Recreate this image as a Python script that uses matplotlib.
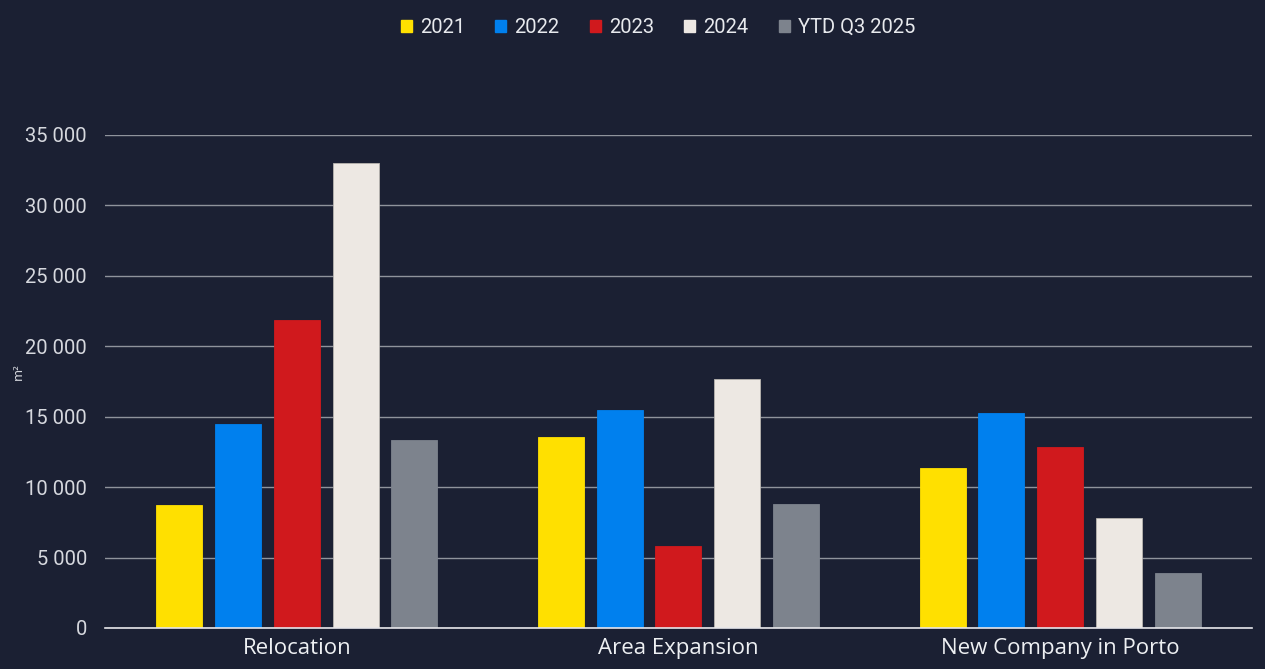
import numpy as np
import matplotlib.pyplot as plt
from matplotlib.patches import Patch
from matplotlib.ticker import FuncFormatter


categories = ["Relocation", "Area Expansion", "New Company in Porto"]
series_names = ["2021", "2022", "2023", "2024", "YTD Q3 2025"]

values_2021 = [8700, 13560, 11360]
values_2022 = [14460, 15480, 15260]
values_2023 = [21870, 5850, 12850]
values_2024 = [33010, 17680, 7790]
values_ytd_2025 = [13350, 8780, 3880]

y_ticks = [0, 5000, 10000, 15000, 20000, 25000, 30000, 35000]

BACKGROUND = "#1b2033"
COLORS = ["#FFE000", "#0080EE", "#D0191D", "#EDE8E3", "#7D838D"]
TEXT_COLOR = "#d6d8de"
GRID_COLOR = "#8f939c"


def thousands_space(value, pos):
    return f"{int(value):,}".replace(",", " ")


def plot_chart(filename):
    series = [values_2021, values_2022, values_2023, values_2024, values_ytd_2025]

    fig = plt.figure(figsize=(12.65, 6.69), dpi=100)
    fig.patch.set_facecolor(BACKGROUND)

    ax = fig.add_axes([0.083, 0.0613, 0.9067, 0.737])
    ax.set_facecolor(BACKGROUND)

    x = np.arange(len(categories))
    width = 0.1206
    step = 0.154

    for i, (name, vals) in enumerate(zip(series_names, series)):
        offset = (i - 2) * step
        ax.bar(
            x + offset,
            vals,
            width,
            color=COLORS[i],
            edgecolor="#b8b4b0" if i == 3 else COLORS[i],
            linewidth=0.6,
            zorder=3,
            label=name,
        )

    ax.set_xlim(-0.503, 2.503)
    ax.set_ylim(0, 35000)
    ax.set_yticks(y_ticks)
    ax.yaxis.set_major_formatter(FuncFormatter(thousands_space))

    ax.grid(axis="y", color=GRID_COLOR, linewidth=1, zorder=0)
    ax.grid(axis="x", visible=False)

    for side in ["top", "right", "left"]:
        ax.spines[side].set_visible(False)
    ax.spines["bottom"].set_color("#e6e6ea")
    ax.spines["bottom"].set_linewidth(1.2)
    ax.spines["bottom"].set_zorder(4)

    ax.set_xticks(x)
    ax.set_xticklabels(categories, fontsize=16, color="#eef0f3", family="Open Sans")
    ax.tick_params(axis="x", length=0, pad=7)
    ax.tick_params(axis="y", length=0, pad=13, labelsize=14.5, labelcolor=TEXT_COLOR)
    for label in ax.get_yticklabels():
        label.set_family("Roboto")

    ax.set_ylabel("m²", color=TEXT_COLOR, fontsize=9, labelpad=2)
    ax.yaxis.set_label_coords(-0.07, 0.52)

    handles = [Patch(facecolor=c, edgecolor=c) for c in COLORS]
    legend = fig.legend(
        handles,
        series_names,
        loc="upper center",
        bbox_to_anchor=(0.52, 1.0),
        ncol=5,
        frameon=False,
        handlelength=0.55,
        handleheight=0.55,
        handletextpad=0.4,
        columnspacing=1.5,
        prop={"family": "Roboto", "size": 14.5},
    )
    for text in legend.get_texts():
        text.set_color("#e8eaee")

    fig.savefig(filename, dpi=100, facecolor=BACKGROUND)
    plt.close(fig)


if __name__ == "__main__":
    plot_chart("out.png")
